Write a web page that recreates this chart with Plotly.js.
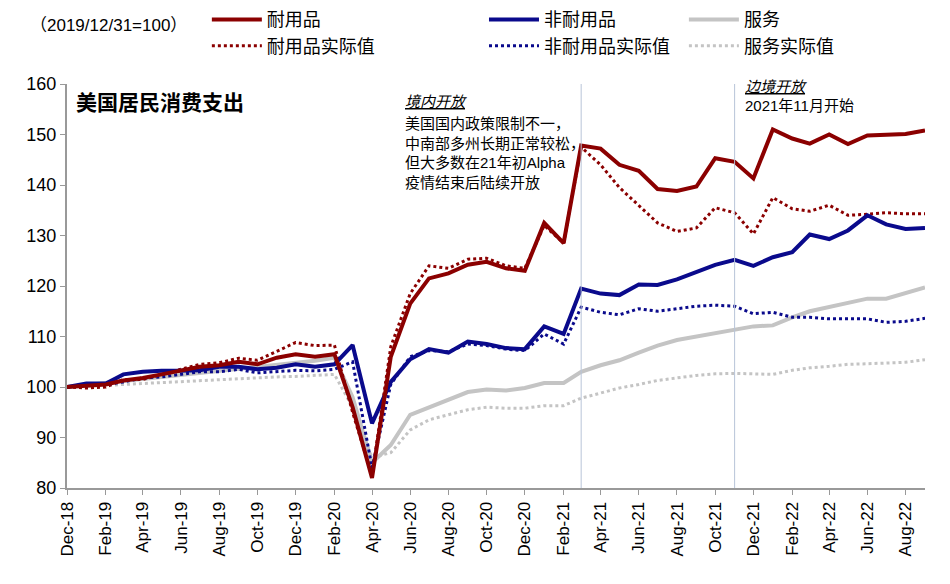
<!DOCTYPE html>
<html>
<head>
<meta charset="utf-8">
<script src="https://cdn.plot.ly/plotly-3.0.1.min.js"></script>
<style>body{margin:0;background:#fff}#plotly{width:950px;height:584px}</style>
</head>
<body>
<div id="plotly"></div>
<script>
// monthly index, 2019/12/31 = 100
var months = [];
for (var i = 0; i < 46; i++) {
  var d = new Date(Date.UTC(2018, 11 + i, 1));
  months.push(d.toISOString().slice(0, 10));
}

var durable = [100,100.3,100.5,101.3,101.8,102.5,103.3,104,104.3,105,104.5,105.8,106.5,106,106.5,96,82,106,116.5,121.5,122.5,124.2,124.8,123.5,123,132.5,128.5,147.8,147.2,144,142.8,139.2,138.8,139.7,145.3,144.6,141.3,151,149.2,148.2,150,148.1,149.8,149.9,150.1,150.8];
var durableActual = [100,99.8,100,101.5,101.5,102.5,103.5,104.5,104.8,105.7,105.3,107,108.8,108.2,108.3,95,82.5,108,118.5,124,123.5,125.3,125.5,124,123.5,132,128.5,147.5,144,139.5,136,132.5,130.8,131.5,135.5,134.5,130.3,137.5,135.3,134.8,136,134,134.2,134.5,134.3,134.3];
var nondurable = [100,100.7,100.7,102.5,103,103.2,103.2,103.3,104,104,103.5,103.8,104.5,104,104.5,108.3,92.8,101,105.5,107.5,106.8,109,108.5,107.7,107.5,112,110.5,119.5,118.5,118.2,120.3,120.2,121.3,122.8,124.2,125.2,124,125.7,126.7,130.2,129.3,131,134,132.2,131.3,131.5];
var nondurableActual = [100,100.3,100.5,101,101.8,102,102.5,103,103,103.5,102.8,103,103.3,103.2,103.5,105,84,100.5,106,107.2,107,108.5,108.2,107.5,107.2,110.5,108.5,115.8,114.8,114.3,115.5,115,115.5,116,116.2,116,114.5,114.8,113.8,113.8,113.5,113.5,113.5,112.8,113,113.6];
var services = [100,100.4,100.8,101.2,101.6,102,102.4,102.8,103.2,103.6,104,104.4,104.8,105.2,105.8,98,85,88.5,94.5,96,97.5,99,99.5,99.3,99.8,100.8,100.8,103,104.3,105.3,106.8,108.2,109.3,110,110.8,111.5,112,112.2,113.8,115,115.8,116.5,117.5,117.5,118.7,119.7];
var servicesActual = [100,100.1,100.3,100.5,100.7,100.9,101.1,101.3,101.5,101.7,101.9,102,102.1,102.3,102.5,96,86,87,91.5,93.5,94.5,95.5,96,95.8,95.8,96.3,96.3,97.8,98.8,99.8,100.5,101.3,101.8,102.3,102.6,102.7,102.6,102.5,103.3,103.8,104.1,104.5,104.6,104.7,104.9,105.4];

var red = '#8b0000', blue = '#0a0a8c', grey = '#c4c4c4';

function line(y, name, color, dash, legend, rank) {
  return {
    x: months, y: y, type: 'scatter', mode: 'lines', name: name,
    legend: legend, legendrank: rank,
    line: {color: color, width: dash ? 3 : 4, dash: dash ? 'dot' : 'solid'}
  };
}

// draw order: services below, durables on top
var data = [
  line(services, '服务', grey, false, 'legend3', 1),
  line(servicesActual, '服务实际值', grey, true, 'legend3', 2),
  line(durableActual, '耐用品实际值', red, true, 'legend', 2),
  line(nondurableActual, '非耐用品实际值', blue, true, 'legend2', 2),
  line(nondurable, '非耐用品', blue, false, 'legend2', 1),
  line(durable, '耐用品', red, false, 'legend', 1)
];

function legendAt(x) {
  return {
    x: x, xanchor: 'left', y: 1.205, yanchor: 'top',
    orientation: 'v', font: {size: 18}, tracegroupgap: 0, itemwidth: 50,
    bgcolor: 'rgba(0,0,0,0)'
  };
}

var layout = {
  width: 950, height: 584,
  margin: {l: 67, r: 25, t: 84, b: 96, autoexpand: false},
  font: {family: 'Arial, "Noto Sans CJK SC", sans-serif', size: 16, color: '#000'},
  plot_bgcolor: '#fff', paper_bgcolor: '#fff',
  showlegend: true,
  legend: legendAt(0.163),
  legend2: legendAt(0.486),
  legend3: legendAt(0.719),
  xaxis: {
    type: 'date', range: ['2018-12-01', '2022-09-01'],
    tick0: '2018-12-01', dtick: 'M2', tickformat: '%b-%y', tickangle: -90,
    showgrid: false, zeroline: false, showline: true, linecolor: '#999', linewidth: 2,
    ticks: 'outside', ticklen: 5, tickcolor: '#999', tickfont: {size: 17}
  },
  yaxis: {
    range: [80, 160], dtick: 10, showgrid: false, zeroline: false,
    showline: true, linecolor: '#999', linewidth: 2,
    ticks: 'outside', ticklen: 5, tickcolor: '#999', tickfont: {size: 18}
  },
  shapes: [
    {type: 'line', xref: 'x', yref: 'paper', x0: '2021-03-01', x1: '2021-03-01', y0: 0, y1: 1, line: {color: '#b8c4d8', width: 1}},
    {type: 'line', xref: 'x', yref: 'paper', x0: '2021-11-01', x1: '2021-11-01', y0: 0, y1: 1, line: {color: '#b8c4d8', width: 1}}
  ],
  annotations: [
    {xref: 'paper', yref: 'paper', x: -0.045, y: 1.146, xanchor: 'left', yanchor: 'middle', showarrow: false, text: '（2019/12/31=100）', font: {size: 17}},
    {xref: 'paper', yref: 'paper', x: 0.008, y: 0.955, xanchor: 'left', yanchor: 'middle', showarrow: false, text: '<b>美国居民消费支出</b>', font: {size: 21}},
    {xref: 'x', yref: 'y', x: '2020-05-20', y: 156.5, xanchor: 'left', yanchor: 'middle', showarrow: false, text: '<i><u>境内开放</u></i>', font: {size: 15}},
    {xref: 'x', yref: 'y', x: '2020-05-20', y: 154.3, xanchor: 'left', yanchor: 'top', align: 'left', showarrow: false,
     text: '美国国内政策限制不一，<br>中南部多州长期正常较松，<br>但大多数在21年初Alpha<br>疫情结束后陆续开放', font: {size: 15}},
    {xref: 'x', yref: 'paper', x: '2021-11-15', y: 0.995, xanchor: 'left', yanchor: 'middle', showarrow: false, text: '<i><u>边境开放</u></i>', font: {size: 15}},
    {xref: 'x', yref: 'y', x: '2021-11-15', y: 155.8, xanchor: 'left', yanchor: 'middle', showarrow: false, text: '2021年11月开始', font: {size: 15}}
  ]
};

Plotly.newPlot('plotly', data, layout, {displayModeBar: false});
</script>
</body>
</html>
